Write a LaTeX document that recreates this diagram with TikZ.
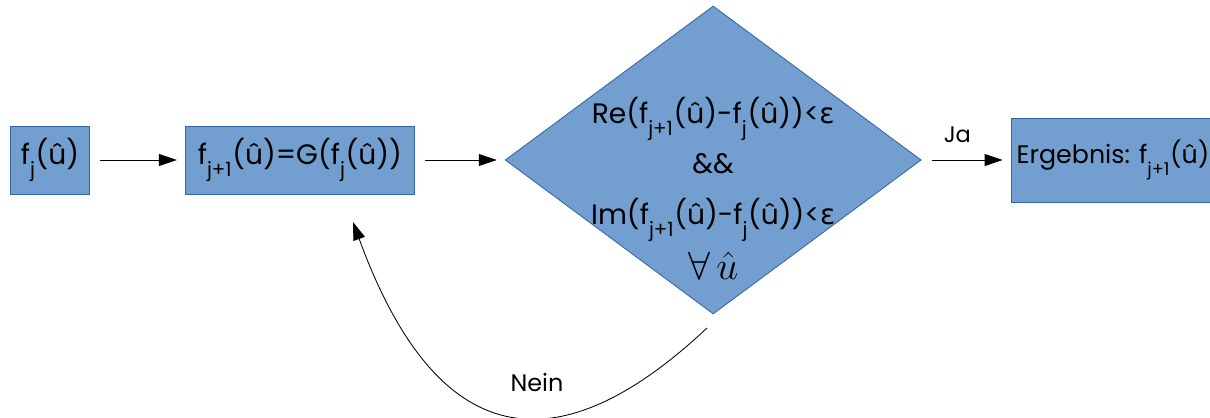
\documentclass[tikz,border=0pt]{standalone}
\usepackage{fontspec}
\setmainfont{Poppins}
\newfontfamily\grkfont{DejaVu Sans}
\usetikzlibrary{arrows.meta, shapes.geometric, positioning}

\definecolor{boxfill}{HTML}{729FCF}
\definecolor{boxline}{HTML}{3465A4}

\newcommand{\eps}{{\grkfont ε}}
\newcommand{\sub}[1]{\raisebox{-0.5ex}{\textsubscript{#1}}}

\begin{document}
\begin{tikzpicture}[
        box/.style={draw=boxline, fill=boxfill, line width=0.6pt, minimum height=1.7cm, inner sep=0pt,
            font=\fontsize{20}{24}\selectfont},
        cond/.style={draw=boxline, fill=boxfill, line width=0.6pt, shape=diamond, inner sep=0pt,
            minimum width=10.4cm, minimum height=7.7cm},
        flow/.style={-{Triangle[length=4.5mm, width=3mm]}, line width=0.6pt, shorten <=0.25cm, shorten >=0.2cm}
    ]
        \useasboundingbox (0,0) rectangle (30.25,10.45);

        \node[box, minimum width=1.975cm] (fj) at (1.25,6.45) {f\sub{j}(û)};
        \node[box, minimum width=5.725cm, right=2.375cm of fj] (upd) {f\sub{j+1}(û)=G(f\sub{j}(û))};
        \node[cond, right=2.25cm of upd] (check) {};
        \node[align=center, font=\fontsize{20}{36}\selectfont] (checktext) at ([yshift=-0.7cm]check.center)
            {Re(f\sub{j+1}(û)-f\sub{j}(û))<\eps\\ \&\&\\ Im(f\sub{j+1}(û)-f\sub{j}(û))<\eps\\[3pt]
            \smash{\scalebox{1.35}{$\forall\,\hat{u}$}}};
        \node[box, minimum width=5.1cm, minimum height=2.1cm, right=2.225cm of check,
            font=\fontsize{18}{24}\selectfont] (result) {Ergebnis: f\sub{j+1}(û)};

        \draw[flow] (fj) -- (upd);
        \draw[flow] (upd) -- (check);
        \draw[flow] (check) -- node[above=0.3cm, xshift=-0.22cm, font=\fontsize{16}{18}\selectfont] (ja) {Ja} (result);

        % way back when the test fails
        \coordinate (loopstart) at (17.675,2.25);
        \coordinate (loopend) at (8.825,4.9);
        \draw[-{Triangle[length=4.5mm, width=3mm]}, line width=0.6pt] (loopstart)
            .. controls +(-3.3,-3.1) and +(2.3,-6.3) .. (loopend);
        \node[font=\fontsize{17}{20}\selectfont] (nein) at (13.425,0.875) {Nein};
    \end{tikzpicture}
\end{document}
